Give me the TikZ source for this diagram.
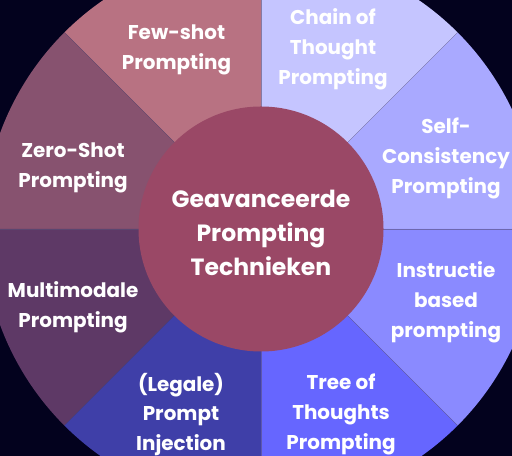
\documentclass[tikz,border=0pt]{standalone}
\usepackage{fontspec}
\usetikzlibrary{calc}
\setmainfont{Poppins}
\definecolor{bgc}{RGB}{3,2,30}
\definecolor{cself}{RGB}{169,169,255}
\definecolor{cchain}{RGB}{197,197,255}
\definecolor{cfew}{RGB}{184,114,130}
\definecolor{czero}{RGB}{135,82,111}
\definecolor{cmulti}{RGB}{94,57,102}
\definecolor{clegale}{RGB}{63,63,168}
\definecolor{ctree}{RGB}{102,102,255}
\definecolor{cinstr}{RGB}{138,138,255}
\definecolor{chub}{RGB}{154,72,102}
\definecolor{cline}{RGB}{90,80,120}
\tikzset{
  lbl/.style={text=white, align=center, font=\fontsize{20}{30}\selectfont\bfseries, inner sep=0pt},
  hubstyle/.style={circle, fill=chub, minimum size=245bp, inner sep=0pt, text=white, align=center, font=\fontsize{23.6}{34}\selectfont\bfseries},
  sepline/.style={draw=cline, line width=0.35bp, draw opacity=0.6}
}
\begin{document}
\begin{tikzpicture}[x=1bp,y=1bp]
\useasboundingbox (0,0) rectangle (512,456);
\fill[bgc] (0,0) rectangle (512,456);
\clip (0,0) rectangle (512,456);
\coordinate (c) at (261,227);
\def\R{278}
\foreach \a/\col in {0/cself,45/cchain,90/cfew,135/czero,180/cmulti,225/clegale,270/ctree,315/cinstr}{
  \fill[\col] (c) -- ++(\a:\R) arc[start angle=\a, end angle=\a+45, radius=\R] -- cycle;
}
\foreach \a in {0,45,...,315}{
  \coordinate (e\a) at ($(c)+(\a:\R)$);
}
\foreach \a in {0,45,...,315}{
  \draw[sepline] (c) -- (e\a);
}
\node[hubstyle] (hub) at (c) {};
\node[text=white, align=center, font=\fontsize{23.6}{34}\selectfont\bfseries, inner sep=0pt] (hubtxt) at (261,223) {Geavanceerde\\Prompting\\Technieken};
\node[lbl] (few) at (176.5,406.5) {Few-shot\\Prompting};
\node[lbl] (chain) at (333,406.5) {Chain of\\Thought\\Prompting};
\node[lbl] (self) at (446,297.5) {Self-\\Consistency\\Prompting};
\node[lbl] (zero) at (73,288.5) {Zero-Shot\\Prompting};
\node[lbl] (multi) at (73,148.5) {Multimodale\\Prompting};
\node[lbl] (instr) at (446,153.5) {Instructie\\based\\prompting};
\node[lbl] (legale) at (181,41.5) {(Legale)\\Prompt\\Injection};
\node[lbl] (tree) at (341,41.5) {Tree of\\Thoughts\\Prompting};
\end{tikzpicture}
\end{document}
